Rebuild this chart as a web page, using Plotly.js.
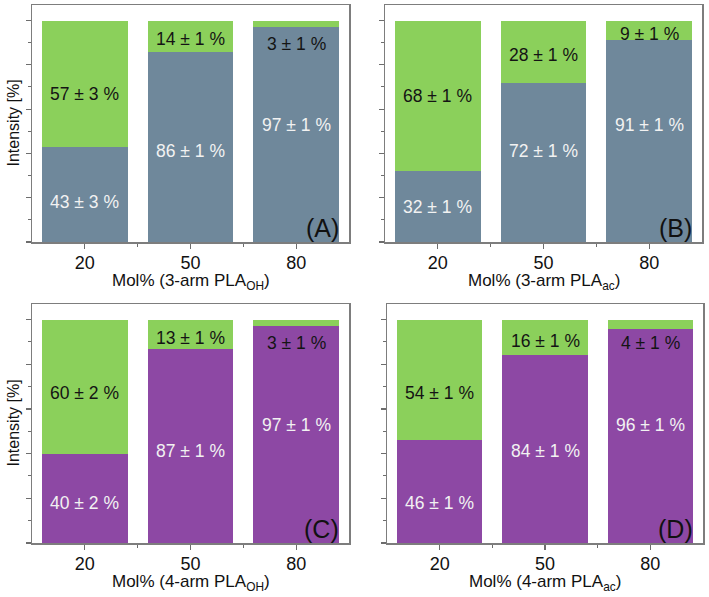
<!DOCTYPE html>
<html>
<head>
<meta charset="utf-8">
<script src="https://cdn.plot.ly/plotly-3.0.1.min.js"></script>
<style>
  html, body { margin: 0; padding: 0; background: #ffffff; }
  #chart { width: 709px; height: 597px; }
</style>
</head>
<body>
<div id="chart"></div>
<script>
// Mol% of star-shaped PLA in the blend (x categories)
const categories = ['20', '50', '80'];

// Panel A: 3-arm PLA-OH
const lowA = [43, 86, 97];
const highA = [57, 14, 3];
const lowErrA = [3, 1, 1];
const highErrA = [3, 1, 1];

// Panel B: 3-arm PLA-ac
const lowB = [32, 72, 91];
const highB = [68, 28, 9];
const lowErrB = [1, 1, 1];
const highErrB = [1, 1, 1];

// Panel C: 4-arm PLA-OH
const lowC = [40, 87, 97];
const highC = [60, 13, 3];
const lowErrC = [2, 1, 1];
const highErrC = [2, 1, 1];

// Panel D: 4-arm PLA-ac
const lowD = [46, 84, 96];
const highD = [54, 16, 4];
const lowErrD = [1, 1, 1];
const highErrD = [1, 1, 1];

const panelLetters = ['(A)', '(B)', '(C)', '(D)'];
const xTitles = [
  'Mol% (3-arm PLA<sub>OH</sub>)',
  'Mol% (3-arm PLA<sub>ac</sub>)',
  'Mol% (4-arm PLA<sub>OH</sub>)',
  'Mol% (4-arm PLA<sub>ac</sub>)'
];
const yTitle = 'Intensity [%]';

const GREEN = '#8bd05b';
const SLATE = '#6f889b';
const PURPLE = '#8d48a4';
const FONT = 'Liberation Sans, Arial, sans-serif';

const panels = [
  { low: lowA, high: highA, lowErr: lowErrA, highErr: highErrA, lowColor: SLATE },
  { low: lowB, high: highB, lowErr: lowErrB, highErr: highErrB, lowColor: SLATE },
  { low: lowC, high: highC, lowErr: lowErrC, highErr: highErrC, lowColor: PURPLE },
  { low: lowD, high: highD, lowErr: lowErrD, highErr: highErrD, lowColor: PURPLE }
];

// plot-area boundaries in pixels within the 709 x 597 page
const W = 709, H = 597;
const xDomains = [[32, 349], [385, 702], [32, 349], [387, 703]];
const yDomains = [[5, 242], [5, 242], [304, 543], [304, 543]];

const xPos = categories.map((c, i) => i);

// height at which the label of the lower segment sits
function lowLabelY(v) {
  if (v < 50) return Math.min(v / 2, 18);
  if (v < 90) return 41;
  return 53;
}
// height at which the label of the upper segment sits
function highLabelY(lo, hi) {
  if (hi < 5) return 89.5;
  const mid = lo + hi / 2;
  if (hi >= 40) return Math.min(mid, 67);
  return mid - 1.5;
}

const traces = [];
const annotations = [];
const layout = {
  width: W, height: H,
  margin: { l: 0, r: 0, t: 0, b: 0 },
  paper_bgcolor: '#ffffff',
  plot_bgcolor: '#ffffff',
  barmode: 'stack',
  bargap: 0.19,
  showlegend: false,
  font: { family: FONT, color: '#111111', size: 17 },
  annotations: annotations
};

panels.forEach((p, k) => {
  const n = k + 1;
  const xa = 'x' + (n === 1 ? '' : n);
  const ya = 'y' + (n === 1 ? '' : n);
  const xKey = 'xaxis' + (n === 1 ? '' : n);
  const yKey = 'yaxis' + (n === 1 ? '' : n);
  const xd = xDomains[k], yd = yDomains[k];

  traces.push({
    type: 'bar', x: xPos, y: p.low, xaxis: xa, yaxis: ya,
    marker: { color: p.lowColor, line: { width: 0 } },
    hoverinfo: 'skip'
  });
  traces.push({
    type: 'bar', x: xPos, y: p.high, xaxis: xa, yaxis: ya,
    marker: { color: GREEN, line: { width: 0 } },
    hoverinfo: 'skip'
  });

  xPos.forEach((x, i) => {
    annotations.push({
      xref: xa, yref: ya, x: x, y: lowLabelY(p.low[i]),
      text: p.low[i] + ' ± ' + p.lowErr[i] + ' %',
      showarrow: false, font: { size: 17.5, color: '#f2f2f2', family: FONT }
    });
    annotations.push({
      xref: xa, yref: ya, x: x, y: highLabelY(p.low[i], p.high[i]),
      text: p.high[i] + ' ± ' + p.highErr[i] + ' %',
      showarrow: false, font: { size: 17.5, color: '#141414', family: FONT }
    });
  });

  // panel letter in the lower right corner
  annotations.push({
    xref: xa + ' domain', yref: ya + ' domain', x: 1, y: 0,
    xanchor: 'right', yanchor: 'bottom', xshift: -8, yshift: -2,
    text: panelLetters[k], showarrow: false,
    font: { size: 25, color: '#111111', family: FONT }
  });

  // x-axis title below the tick labels
  annotations.push({
    xref: xa + ' domain', yref: 'paper', x: 0.5, y: 1 - (yd[1] + 40) / H,
    xanchor: 'center', yanchor: 'middle',
    text: xTitles[k], showarrow: false,
    font: { size: 17, color: '#111111', family: FONT }
  });

  // y-axis title on the left-hand panels only
  if (k % 2 === 0) {
    annotations.push({
      xref: 'paper', yref: ya + ' domain', x: 13 / W, y: 0.5,
      xanchor: 'center', yanchor: 'middle', textangle: -90,
      text: yTitle, showarrow: false,
      font: { size: 16, color: '#111111', family: FONT }
    });
  }

  layout[xKey] = {
    domain: [xd[0] / W, xd[1] / W],
    anchor: ya,
    range: [-0.5, 2.5],
    tickmode: 'array', tickvals: xPos, ticktext: categories,
    ticks: 'outside', ticklen: 5, tickwidth: 1.2, tickcolor: '#6d6d6d',
    ticklabelstandoff: -1,
    minor: { tickmode: 'array', tickvals: [0.5, 1.5], ticks: 'outside', ticklen: 3, tickwidth: 1, tickcolor: '#6d6d6d' },
    showline: true, linecolor: '#7d7d7d', linewidth: 1.5, mirror: true,
    showgrid: false, zeroline: false, fixedrange: true,
    tickfont: { size: 18, color: '#111111', family: FONT }
  };
  layout[yKey] = {
    domain: [1 - yd[1] / H, 1 - yd[0] / H],
    anchor: xa,
    range: [0, 107],
    tickmode: 'array', tickvals: [0, 20, 40, 60, 80, 100],
    showticklabels: false,
    ticks: 'outside', ticklen: 5, tickwidth: 1.2, tickcolor: '#6d6d6d',
    minor: { tickmode: 'array', tickvals: [10, 30, 50, 70, 90], ticks: 'outside', ticklen: 3, tickwidth: 1, tickcolor: '#6d6d6d' },
    showline: true, linecolor: '#7d7d7d', linewidth: 1.5, mirror: true,
    showgrid: false, zeroline: false, fixedrange: true
  };
});

Plotly.newPlot('chart', traces, layout, { displayModeBar: false, staticPlot: true });
</script>
</body>
</html>
